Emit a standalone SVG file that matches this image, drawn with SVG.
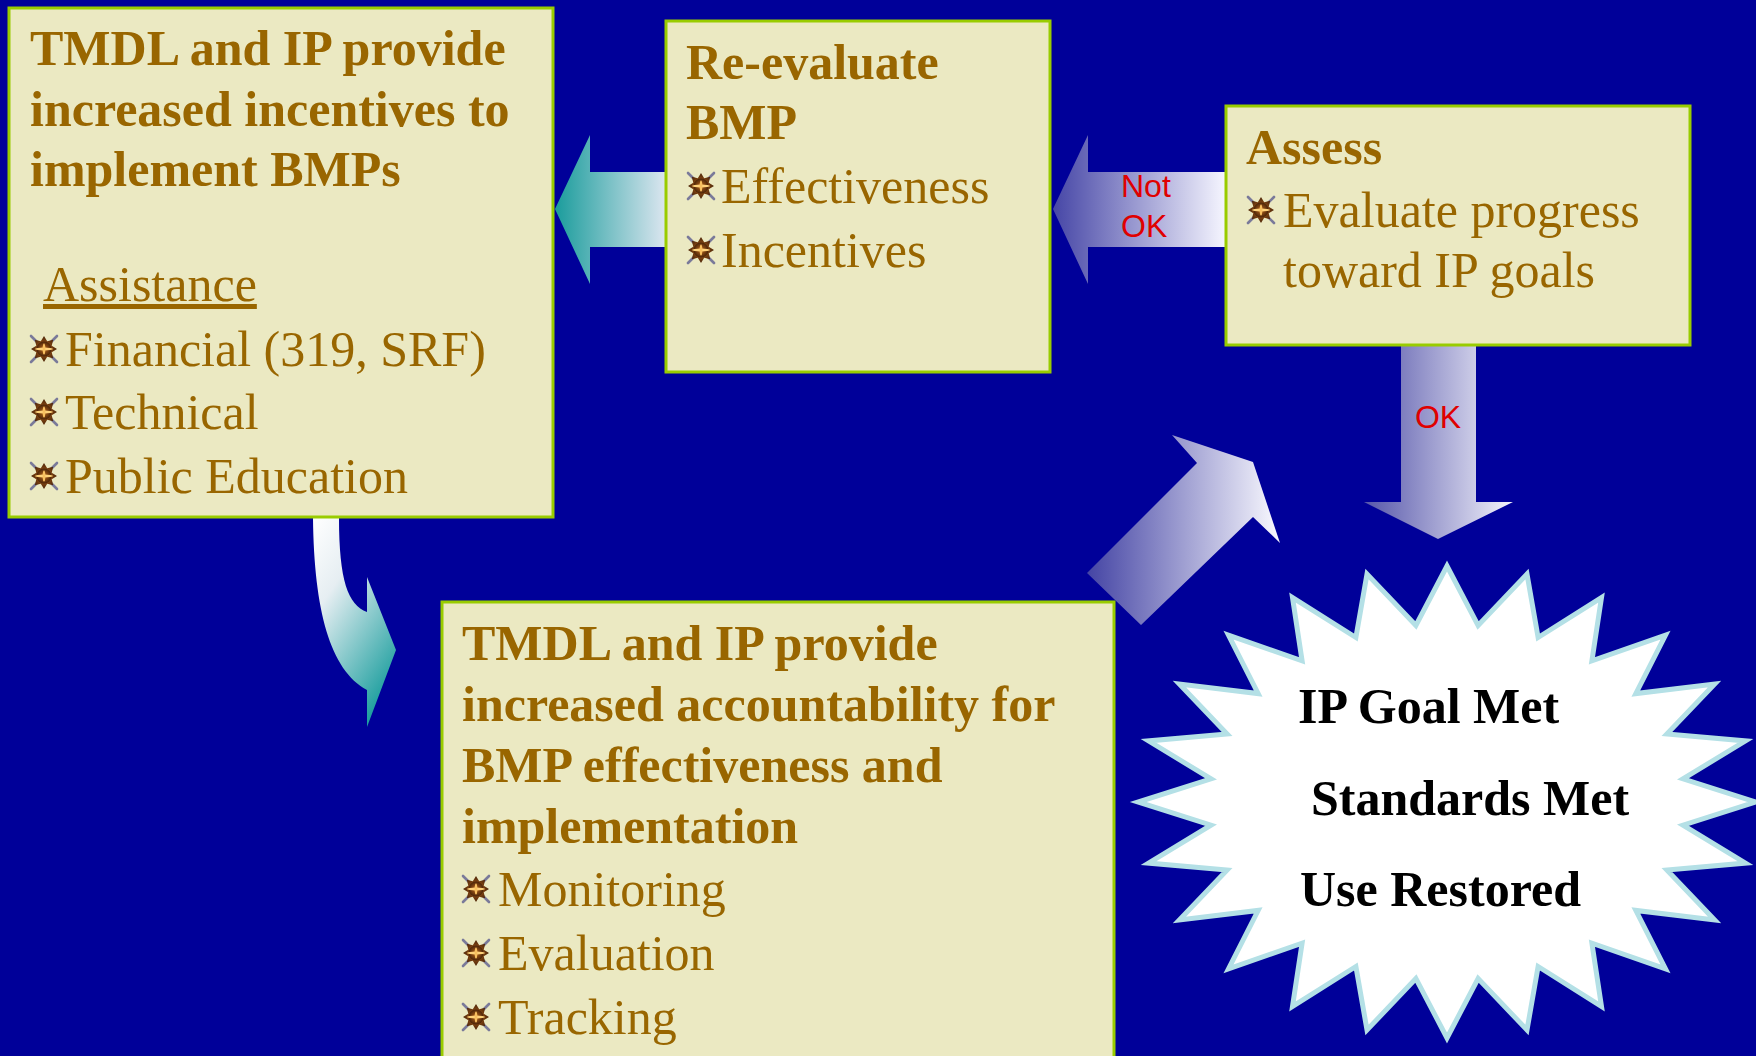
<svg xmlns="http://www.w3.org/2000/svg" xmlns:xlink="http://www.w3.org/1999/xlink" width="1756" height="1056" viewBox="0 0 1756 1056">
<style>
.box{fill:#EBE9C2;stroke:#99CC00;stroke-width:3}
.t{font-family:'Liberation Serif','Times New Roman',serif;font-size:50px;fill:#996600}
.b{font-weight:bold}
.k{font-family:'Liberation Serif','Times New Roman',serif;font-size:50px;font-weight:bold;fill:#000}
.lab{font-family:'Liberation Sans',Arial,sans-serif;font-size:32px;fill:#E00000}
</style>
<defs>
<radialGradient id="bulg" cx="0.5" cy="0.5" r="0.5">
<stop offset="0" stop-color="#E8A040"/><stop offset="0.45" stop-color="#8A4A14"/><stop offset="1" stop-color="#4A2408"/>
</radialGradient>
<symbol id="bul" viewBox="-15 -15 30 30">
<path d="M-13,-13 L-5,-5 M13,-13 L5,-5 M-13,13 L-5,5 M13,13 L5,5" stroke="#7A7A9A" stroke-width="2.6" stroke-linecap="round" fill="none"/>
<polygon points="0,-13 3.2,-7.7 9.2,-9.2 7.7,-3.2 13,0 7.7,3.2 9.2,9.2 3.2,7.7 0,13 -3.2,7.7 -9.2,9.2 -7.7,3.2 -13,0 -7.7,-3.2 -9.2,-9.2 -3.2,-7.7" fill="url(#bulg)"/>
<circle r="7.5" fill="url(#bulg)"/>
<ellipse rx="9" ry="1.5" fill="#FFD27A"/>
<ellipse rx="1.3" ry="5.5" fill="#F8C060"/>
</symbol>
<linearGradient id="gTeal" x1="0" y1="0" x2="1" y2="0">
<stop offset="0" stop-color="#1A9C9C"/><stop offset="1" stop-color="#DCE6F0"/>
</linearGradient>
<linearGradient id="gNot" x1="0" y1="0" x2="1" y2="0">
<stop offset="0" stop-color="#4646A6"/><stop offset="1" stop-color="#F6F6FF"/>
</linearGradient>
<linearGradient id="gOk" x1="0" y1="0" x2="1" y2="0">
<stop offset="0" stop-color="#5656AA"/><stop offset="1" stop-color="#F4F4FC"/>
</linearGradient>
<linearGradient id="gDiag" x1="0" y1="0" x2="1" y2="0">
<stop offset="0" stop-color="#4444A4"/><stop offset="1" stop-color="#FAFAFF"/>
</linearGradient>
<linearGradient id="gCurve" x1="0" y1="0" x2="0.6" y2="1">
<stop offset="0" stop-color="#FFFFFF"/><stop offset="0.35" stop-color="#E6EEF2"/><stop offset="1" stop-color="#20A0A0"/>
</linearGradient>
</defs>
<rect width="1756" height="1056" fill="#000099"/>

<g id="connectors">
<polygon id="arrow-to-incentives" points="555,209 590,135 590,172 666,172 666,247 590,247 590,284" fill="url(#gTeal)"/>
<polygon id="arrow-not-ok" points="1053,209 1088,135 1088,172 1226,172 1226,247 1088,247 1088,284" fill="url(#gNot)"/>
<text class="lab" x="1121" y="197">Not</text>
<text class="lab" x="1121" y="237">OK</text>
<polygon id="arrow-ok" points="1401,344 1476,344 1476,502 1513,502 1438,539 1364,502 1401,502" fill="url(#gOk)"/>
<text class="lab" x="1438" y="428" text-anchor="middle">OK</text>
<polygon id="arrow-diag" points="1087,573 1197,463 1172,435 1253,462 1280,543 1253,517 1141,625" fill="url(#gDiag)"/>
<path id="arrow-curve" d="M313,518 C314,610 330,670 367,690 L367,727 L396,650 L367,577 L367,612 C348,605 339,580 339,518 Z" fill="url(#gCurve)"/>
</g>

<g id="node-incentives">
<rect class="box" x="9" y="8" width="544" height="509"/>
<text class="t b" x="30" y="65">TMDL and IP provide</text>
<text class="t b" x="30" y="126">increased incentives to</text>
<text class="t b" x="30" y="186">implement BMPs</text>
<text class="t" x="43" y="301" text-decoration="underline">Assistance</text>
<use href="#bul" x="29" y="334" width="30" height="30"/>
<text class="t" x="65" y="366">Financial (319, SRF)</text>
<use href="#bul" x="29" y="397" width="30" height="30"/>
<text class="t" x="65" y="429">Technical</text>
<use href="#bul" x="29" y="461" width="30" height="30"/>
<text class="t" x="65" y="493">Public Education</text>
</g>

<g id="node-reevaluate">
<rect class="box" x="666" y="21" width="384" height="351"/>
<text class="t b" x="686" y="79">Re-evaluate</text>
<text class="t b" x="686" y="139">BMP</text>
<use href="#bul" x="686" y="171" width="30" height="30"/>
<text class="t" x="721" y="203">Effectiveness</text>
<use href="#bul" x="686" y="235" width="30" height="30"/>
<text class="t" x="721" y="267">Incentives</text>
</g>

<g id="node-assess">
<rect class="box" x="1226" y="106" width="464" height="239"/>
<text class="t b" x="1246" y="164">Assess</text>
<use href="#bul" x="1246" y="195" width="30" height="30"/>
<text class="t" x="1283" y="227">Evaluate progress</text>
<text class="t" x="1283" y="287">toward IP goals</text>
</g>

<g id="node-accountability">
<rect class="box" x="442" y="602" width="672" height="470"/>
<text class="t b" x="462" y="660">TMDL and IP provide</text>
<text class="t b" x="462" y="721">increased accountability for</text>
<text class="t b" x="462" y="782">BMP effectiveness and</text>
<text class="t b" x="462" y="843">implementation</text>
<use href="#bul" x="461" y="874" width="30" height="30"/>
<text class="t" x="498" y="906">Monitoring</text>
<use href="#bul" x="461" y="938" width="30" height="30"/>
<text class="t" x="498" y="970">Evaluation</text>
<use href="#bul" x="461" y="1002" width="30" height="30"/>
<text class="t" x="498" y="1034">Tracking</text>
</g>

<g id="node-goal">
<polygon transform="translate(1447,802)" fill="#FFFFFF" stroke="#B4E0E6" stroke-width="5" stroke-linejoin="miter" points="0,-236 31.1,-176.5 80,-228 91.1,-164.5 154.5,-204.4 144.9,-141.2 218.5,-166.9 188.8,-108.4 267.6,-118 219.9,-68.1 298.5,-61.1 236,-23.2 309,0 236,23.2 298.5,61.1 219.9,68.1 267.6,118 188.8,108.4 218.5,166.9 144.9,141.2 154.5,204.4 91.1,164.5 80,228 31.1,176.5 0,236 -31.1,176.5 -80,228 -91.1,164.5 -154.5,204.4 -144.9,141.2 -218.5,166.9 -188.8,108.4 -267.6,118 -219.9,68.1 -298.5,61.1 -236,23.2 -309,0 -236,-23.2 -298.5,-61.1 -219.9,-68.1 -267.6,-118 -188.8,-108.4 -218.5,-166.9 -144.9,-141.2 -154.5,-204.4 -91.1,-164.5 -80,-228 -31.1,-176.5"/>
<text class="k" x="1298" y="723">IP Goal Met</text>
<text class="k" x="1311" y="815">Standards Met</text>
<text class="k" x="1300" y="906">Use Restored</text>
</g>
</svg>
